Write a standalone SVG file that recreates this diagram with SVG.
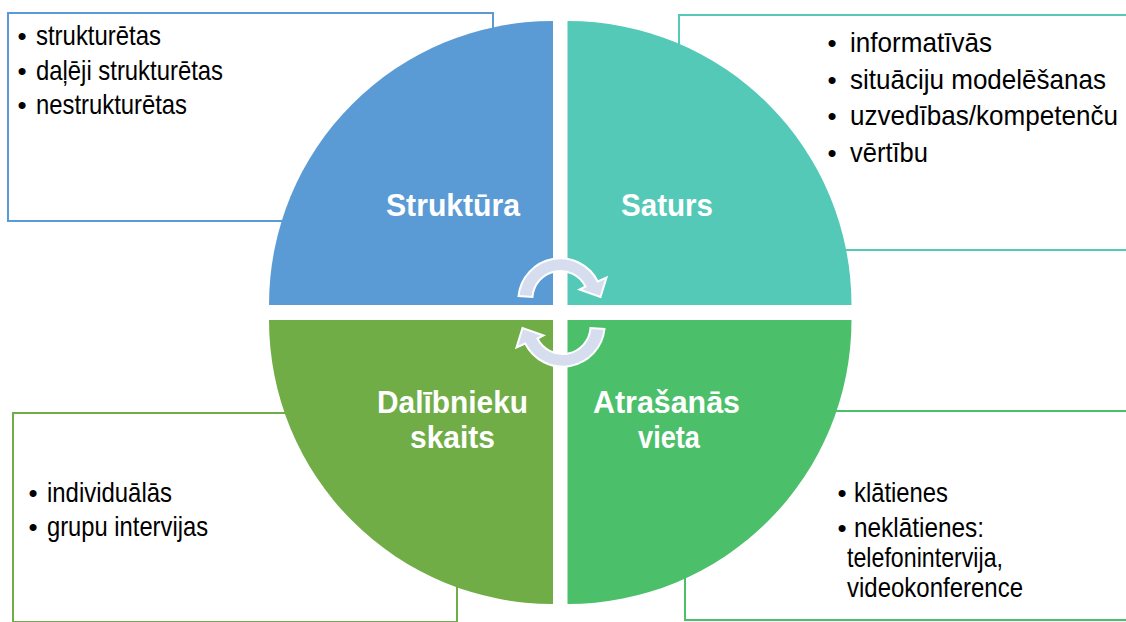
<svg xmlns="http://www.w3.org/2000/svg" width="1126" height="622" viewBox="0 0 1126 622">
<style>
  .box { fill: #FFFFFF; stroke-width: 2; }
  .t { font-family: "Liberation Sans", Arial, sans-serif; font-size: 28px; fill: #000000; }
  .b { font-family: "Liberation Sans", Arial, sans-serif; font-size: 26px; fill: #000000; text-anchor: middle; }
  .lbl { font-family: "Liberation Sans", Arial, sans-serif; font-size: 32px; font-weight: bold; fill: #FFFFFF; text-anchor: middle; }
  .arr { fill: #D6DDEF; stroke: #FFFFFF; stroke-width: 2; stroke-linejoin: miter; }
</style>
<rect width="1126" height="622" fill="#FFFFFF"/>

<g id="box-struktura">
  <rect class="box" x="8" y="13" width="485" height="208" stroke="#5B9BD5"/>
  <text class="b" x="22" y="45">•</text>
  <text class="t" x="36" y="45" textLength="125" lengthAdjust="spacingAndGlyphs">strukturētas</text>
  <text class="b" x="22" y="80">•</text>
  <text class="t" x="36" y="80" textLength="187" lengthAdjust="spacingAndGlyphs">daļēji strukturētas</text>
  <text class="b" x="22" y="114">•</text>
  <text class="t" x="36" y="114" textLength="151" lengthAdjust="spacingAndGlyphs">nestrukturētas</text>
</g>

<g id="box-saturs">
  <rect class="box" x="679" y="15" width="460" height="235" stroke="#54C9B7"/>
  <text class="b" x="832" y="52">•</text>
  <text class="t" x="850" y="52" textLength="142" lengthAdjust="spacingAndGlyphs">informatīvās</text>
  <text class="b" x="832" y="88.5">•</text>
  <text class="t" x="850" y="88.5" textLength="256" lengthAdjust="spacingAndGlyphs">situāciju modelēšanas</text>
  <text class="b" x="832" y="125">•</text>
  <text class="t" x="850" y="125" textLength="268" lengthAdjust="spacingAndGlyphs">uzvedības/kompetenču</text>
  <text class="b" x="832" y="162">•</text>
  <text class="t" x="850" y="162" textLength="78" lengthAdjust="spacingAndGlyphs">vērtību</text>
</g>

<g id="box-dalibnieku-skaits">
  <rect class="box" x="13" y="413" width="444" height="209" stroke="#70AD47"/>
  <text class="b" x="33" y="502">•</text>
  <text class="t" x="47" y="502" textLength="125" lengthAdjust="spacingAndGlyphs">individuālās</text>
  <text class="b" x="33" y="536">•</text>
  <text class="t" x="47" y="536" textLength="161" lengthAdjust="spacingAndGlyphs">grupu intervijas</text>
</g>

<g id="box-atrasanas-vieta">
  <rect class="box" x="685" y="411" width="455" height="209" stroke="#4CBF69"/>
  <text class="b" x="842" y="502">•</text>
  <text class="t" x="854" y="502" textLength="94" lengthAdjust="spacingAndGlyphs">klātienes</text>
  <text class="b" x="842" y="536.5">•</text>
  <text class="t" x="854" y="536.5" textLength="130" lengthAdjust="spacingAndGlyphs">neklātienes:</text>
  <text class="t" x="847" y="566.5" textLength="156" lengthAdjust="spacingAndGlyphs">telefonintervija,</text>
  <text class="t" x="847" y="596.5" textLength="176" lengthAdjust="spacingAndGlyphs">videokonference</text>
</g>

<g id="q-struktura">
  <path d="M553,305 L269,305 A284,284 0 0 1 553,21 Z" fill="#5B9BD5"/>
  <text class="lbl" x="453" y="216" textLength="134" lengthAdjust="spacingAndGlyphs">Struktūra</text>
</g>
<g id="q-saturs">
  <path d="M567.5,305 L567.5,21 A284,284 0 0 1 851.5,305 Z" fill="#54C9B7"/>
  <text class="lbl" x="667" y="216" textLength="92" lengthAdjust="spacingAndGlyphs">Saturs</text>
</g>
<g id="q-dalibnieku-skaits">
  <path d="M553,320 L553,604 A284,284 0 0 1 269,320 Z" fill="#70AD47"/>
  <text class="lbl" x="452.5" y="413" textLength="151" lengthAdjust="spacingAndGlyphs">Dalībnieku</text>
  <text class="lbl" x="452.5" y="448" textLength="85" lengthAdjust="spacingAndGlyphs">skaits</text>
</g>
<g id="q-atrasanas-vieta">
  <path d="M567.5,320 L851.5,320 A284,284 0 0 1 567.5,604 Z" fill="#4BBF69"/>
  <text class="lbl" x="666.5" y="413" textLength="147" lengthAdjust="spacingAndGlyphs">Atrašanās</text>
  <text class="lbl" x="669" y="448" textLength="62" lengthAdjust="spacingAndGlyphs">vieta</text>
</g>

<g id="connectors">
  <path id="arrow-top" class="arr" d="M518.5,296 A42,42 0 0 1 597.8,281.5 L606.5,277.5 L600.5,297 L579.5,289.5 L585.5,286.5 A28,28 0 0 0 532.5,297 Z"/>
  <path id="arrow-bottom" class="arr" transform="rotate(180 561.5 312.5)" d="M518.5,296 A42,42 0 0 1 597.8,281.5 L606.5,277.5 L600.5,297 L579.5,289.5 L585.5,286.5 A28,28 0 0 0 532.5,297 Z"/>
</g>
</svg>
